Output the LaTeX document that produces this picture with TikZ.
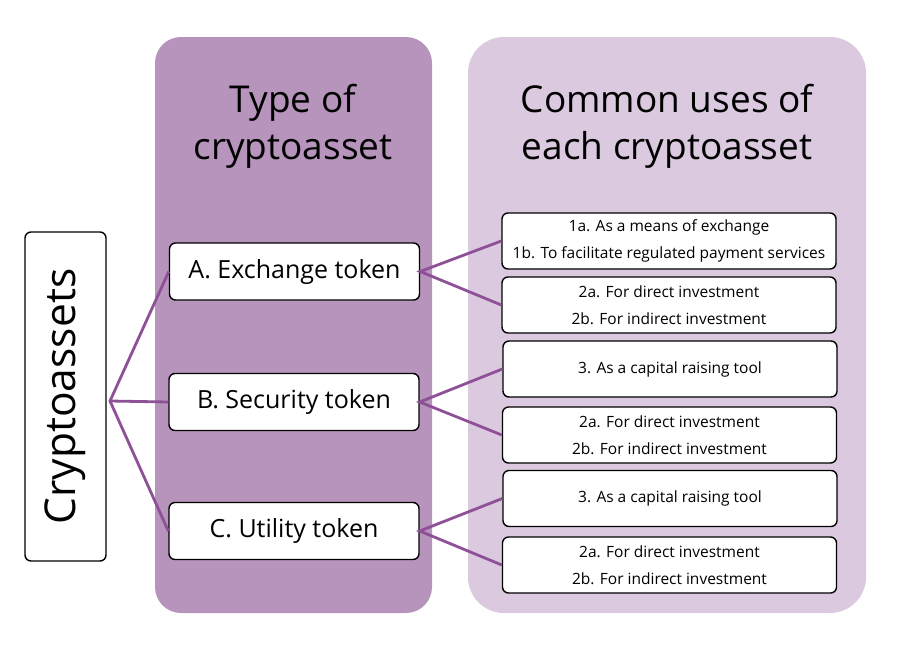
\documentclass[tikz,border=0pt]{standalone}
\usepackage{fontspec}
\setmainfont{Open Sans}
\begin{document}
\begin{tikzpicture}[x=1pt,y=-1pt,
  box/.style={draw=black,line width=1.4pt,rounded corners=6pt,fill=white,inner sep=0pt},
  usebox/.style={box,minimum width=334pt,minimum height=56pt,align=center,font=\fontsize{15.5}{26.5}\selectfont},
  typebox/.style={box,minimum width=250pt,minimum height=57pt,font=\fontsize{25}{28}\selectfont},
  link/.style={draw=linkc,line width=2.8pt}]
\definecolor{panelL}{HTML}{B794BC}
\definecolor{panelR}{HTML}{DBC9DF}
\definecolor{linkc}{HTML}{8E5096}
\useasboundingbox (0,0) rectangle (912,670);
\fill[white] (0,0) rectangle (912,670);
\fill[panelL,rounded corners=26pt] (155,37) rectangle (432,613);
\fill[panelR,rounded corners=36pt] (468,37) rectangle (866,613);
\node[align=center,font=\fontsize{37}{47}\selectfont] (h1) at (293,126) {Type of\\cryptoasset};
\node[align=center,font=\fontsize{37}{47}\selectfont] (h2) at (667,126) {Common uses of\\each cryptoasset};
\node[box,minimum width=81pt,minimum height=329pt] (ca) at (65.5,396.5) {};
\node[rotate=90,font=\fontsize{42.5}{50}\selectfont] (cat) at (ca.center) {Cryptoassets};
\coordinate (j) at (110,401);
\node[typebox] (A) at (294.5,271.5) {A. Exchange token};
\node[typebox] (B) at (294,402) {B. Security token};
\node[typebox] (C) at (294,531) {C. Utility token};
\node[usebox] (u1) at (669,241) {1a. As a means of exchange\\1b. To facilitate regulated payment services};
\node[usebox] (u2) at (669,305) {2a. For direct investment\\2b. For indirect investment};
\node[usebox] (u3) at (670,369) {3. As a capital raising tool};
\node[usebox] (u4) at (669.5,435) {2a. For direct investment\\2b. For indirect investment};
\node[usebox] (u5) at (670,498.5) {3. As a capital raising tool};
\node[usebox] (u6) at (669.5,565) {2a. For direct investment\\2b. For indirect investment};
\draw[link] (A.west) -- (j) -- (C.west);
\draw[link] (j) -- (B.west);
\draw[link] (u1.west) -- (A.east) -- (u2.west);
\draw[link] (u3.west) -- (B.east) -- (u4.west);
\draw[link] (u5.west) -- (C.east) -- (u6.west);
\end{tikzpicture}
\end{document}
